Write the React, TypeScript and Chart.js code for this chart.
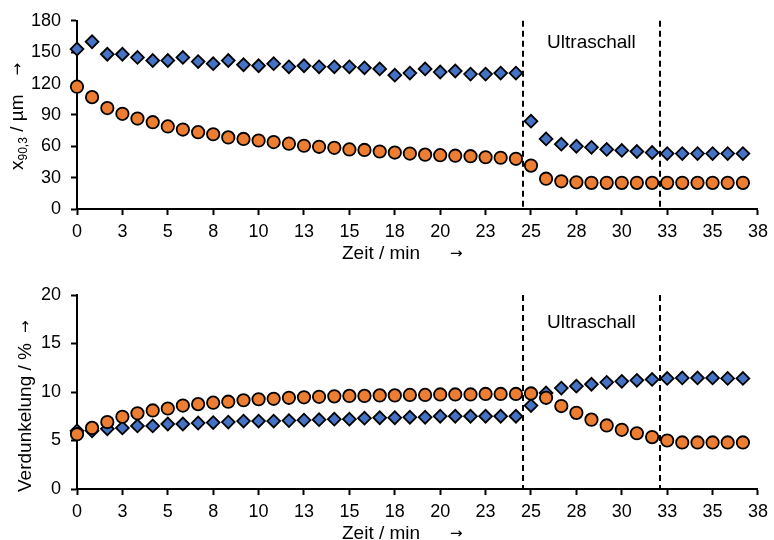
import { useEffect, useRef } from 'react';
import { Chart, registerables } from 'chart.js';

Chart.register(...registerables);

// Sampling times in minutes (one reading every 50 s)
const times = [
  0, 0.83, 1.67, 2.5, 3.33, 4.17, 5, 5.83, 6.67, 7.5, 8.33, 9.17, 10, 10.83, 11.67,
  12.5, 13.33, 14.17, 15, 15.83, 16.67, 17.5, 18.33, 19.17, 20, 20.83, 21.67, 22.5,
  23.33, 24.17, 25, 25.83, 26.67, 27.5, 28.33, 29.17, 30, 30.83, 31.67, 32.5, 33.33,
  34.17, 35, 35.83, 36.67,
];

const xTickValues = [0, 2.5, 5, 7.5, 10, 12.5, 15, 17.5, 20, 22.5, 25, 27.5, 30, 32.5, 35, 37.5];
const xTickLabels = ['0', '3', '5', '8', '10', '13', '15', '18', '20', '23', '25', '28', '30', '33', '35', '38'];

const sizeTicks = [0, 30, 60, 90, 120, 150, 180];
const darkTicks = [0, 5, 10, 15, 20];

// x90,3 in µm
const sizeBlue = [
  153, 160, 148, 148, 145, 142, 142, 145, 141, 139, 142, 138, 137, 139, 136,
  137, 136, 136, 136, 135, 134, 128, 130, 134, 131, 132, 129, 129, 130, 130,
  84, 67, 62, 60, 59, 57, 56, 55, 54, 53, 53, 53, 53, 53, 53,
];
const sizeOrange = [
  117, 107, 96.5, 91, 86.5, 83, 79, 76, 73.5, 71.5, 68.5, 67, 65.5, 64, 62.5,
  60.5, 59.5, 58.5, 57, 56.5, 55, 54, 53, 52, 51.5, 51, 50.5, 49.5, 49, 48,
  41.5, 29, 26.5, 25.5, 25, 25, 25, 25, 25, 25, 25, 25, 25, 25, 25,
];

// Verdunkelung in %
const darkBlue = [
  6.0, 6.0, 6.2, 6.3, 6.5, 6.5, 6.7, 6.7, 6.8, 6.85, 6.9, 7.0, 7.0, 7.0, 7.05,
  7.1, 7.15, 7.2, 7.2, 7.3, 7.35, 7.35, 7.4, 7.4, 7.5, 7.5, 7.5, 7.5, 7.5, 7.5,
  8.6, 9.9, 10.4, 10.6, 10.8, 11.0, 11.1, 11.2, 11.3, 11.4, 11.45, 11.45, 11.45, 11.4, 11.4,
];
const darkOrange = [
  5.65, 6.3, 6.9, 7.45, 7.8, 8.1, 8.3, 8.6, 8.75, 8.9, 9.0, 9.15, 9.25, 9.3, 9.4,
  9.45, 9.5, 9.55, 9.6, 9.6, 9.65, 9.65, 9.7, 9.7, 9.75, 9.75, 9.75, 9.8, 9.8, 9.8,
  9.85, 9.4, 8.55, 7.85, 7.15, 6.55, 6.1, 5.75, 5.35, 5.0, 4.8, 4.8, 4.8, 4.8, 4.8,
];

// Start and end of the ultrasound treatment (min)
const sonicationBounds = [24.58, 32.08];
const sonicationLabel = 'Ultraschall';
const timeTitle = 'Zeit / min';
const arrow = '→';

const FAMILY = '"Liberation Sans", Arial, Helvetica, sans-serif';
const ARROW_FAMILY = '"DejaVu Sans", sans-serif';
const BLUE = '#4472C4';
const ORANGE = '#ED7D31';
const W = 774;
const H = 270;

type Part = { text: string; size: number; shift?: number; gap?: number; family?: string };

function drawRun(ctx: CanvasRenderingContext2D, parts: Part[], x0: number, y0: number, rotated: boolean) {
  ctx.save();
  ctx.translate(x0, y0);
  if (rotated) ctx.rotate(-Math.PI / 2);
  ctx.fillStyle = '#000';
  ctx.textAlign = 'left';
  ctx.textBaseline = 'alphabetic';
  let u = 0;
  for (const p of parts) {
    ctx.font = `${p.size}px ${p.family || FAMILY}`;
    u += p.gap || 0;
    ctx.fillText(p.text, u, p.shift || 0);
    u += ctx.measureText(p.text).width;
  }
  ctx.restore();
}

type Panel = {
  top: number;
  bottom: number;
  max: number;
  ticks: number[];
  blue: number[];
  orange: number[];
  yTitle: Part[];
  yTitleX: number;
  yTitleY: number;
  xTitleY: number;
  labelY: number;
};

const panels: Panel[] = [
  {
    top: 16,
    bottom: 209,
    max: 180,
    ticks: sizeTicks,
    blue: sizeBlue,
    orange: sizeOrange,
    yTitle: [
      { text: 'x', size: 19 },
      { text: '90,3', size: 12, shift: 4 },
      { text: ' / µm', size: 19 },
      { text: arrow, size: 15, gap: 19, family: ARROW_FAMILY, shift: -1 },
    ],
    yTitleX: 23,
    yTitleY: 170,
    xTitleY: 259,
    labelY: 43,
  },
  {
    top: 25,
    bottom: 219,
    max: 20,
    ticks: darkTicks,
    blue: darkBlue,
    orange: darkOrange,
    yTitle: [
      { text: 'Verdunkelung / %', size: 19 },
      { text: arrow, size: 15, gap: 10, family: ARROW_FAMILY, shift: -1 },
    ],
    yTitleX: 31,
    yTitleY: 222,
    xTitleY: 269,
    labelY: 53,
  },
];

function makeOverlay(p: Panel) {
  return {
    id: 'sonicationOverlay',
    beforeDatasetsDraw(chart: any) {
      const { ctx, chartArea, scales } = chart;
      ctx.save();
      ctx.strokeStyle = '#000';
      ctx.lineWidth = 2;
      ctx.setLineDash([6, 4]);
      for (const t of sonicationBounds) {
        const x = Math.round(scales.x.getPixelForValue(t));
        ctx.beginPath();
        ctx.moveTo(x, chartArea.top);
        ctx.lineTo(x, chartArea.bottom);
        ctx.stroke();
      }
      ctx.restore();
    },
    afterDraw(chart: any) {
      const { ctx, scales } = chart;
      ctx.save();
      ctx.fillStyle = '#000';
      ctx.font = `19px ${FAMILY}`;
      ctx.textAlign = 'center';
      ctx.textBaseline = 'middle';
      const mid = (scales.x.getPixelForValue(sonicationBounds[0]) + scales.x.getPixelForValue(sonicationBounds[1])) / 2;
      ctx.fillText(sonicationLabel, mid, p.labelY);
      ctx.restore();
      drawRun(ctx, p.yTitle, p.yTitleX, p.yTitleY, true);
      drawRun(
        ctx,
        [
          { text: timeTitle, size: 19 },
          { text: arrow, size: 15, gap: 30, family: ARROW_FAMILY, shift: -1 },
        ],
        342,
        p.xTitleY,
        false
      );
    },
  };
}

function makeConfig(p: Panel): any {
  const tickFont = { family: FAMILY, size: 18 };
  const grid = {
    display: true,
    drawOnChartArea: false,
    drawTicks: true,
    tickLength: 6,
    tickColor: '#000',
    tickWidth: 2,
  };
  return {
    type: 'scatter',
    data: {
      datasets: [
        {
          data: times.map((t, i) => ({ x: t, y: p.orange[i] })),
          pointStyle: 'circle',
          pointRadius: 6.2,
          backgroundColor: ORANGE,
          borderColor: '#000',
          borderWidth: 1.8,
          showLine: false,
          clip: false,
        },
        {
          data: times.map((t, i) => ({ x: t, y: p.blue[i] })),
          pointStyle: 'rectRot',
          pointRadius: 6.4,
          backgroundColor: BLUE,
          borderColor: '#000',
          borderWidth: 1.8,
          showLine: false,
          clip: false,
        },
      ],
    },
    options: {
      responsive: false,
      animation: false,
      events: [],
      layout: { padding: { left: 0, right: W - 758, top: p.top, bottom: 0 } },
      plugins: { legend: { display: false }, tooltip: { enabled: false }, title: { display: false } },
      scales: {
        x: {
          type: 'linear',
          min: 0,
          max: 37.5,
          afterBuildTicks: (s: any) => {
            s.ticks = xTickValues.map((v) => ({ value: v }));
          },
          afterFit: (s: any) => {
            s.height = H - p.bottom;
          },
          ticks: {
            callback: (_v: any, i: number) => xTickLabels[i],
            font: tickFont,
            color: '#000',
            padding: 6,
            maxRotation: 0,
            autoSkip: false,
          },
          grid,
          border: { display: true, color: '#000', width: 2 },
        },
        y: {
          type: 'linear',
          min: 0,
          max: p.max,
          afterBuildTicks: (s: any) => {
            s.ticks = p.ticks.map((v) => ({ value: v }));
          },
          afterFit: (s: any) => {
            s.width = 77;
          },
          ticks: {
            font: tickFont,
            color: '#000',
            padding: 10,
          },
          grid,
          border: { display: true, color: '#000', width: 2 },
        },
      },
    },
    plugins: [makeOverlay(p)],
  };
}

function PanelChart({ panel, top }: { panel: Panel; top: number }) {
  const ref = useRef<HTMLCanvasElement | null>(null);
  useEffect(() => {
    if (!ref.current) return;
    const chart = new Chart(ref.current, makeConfig(panel));
    return () => chart.destroy();
  }, [panel]);
  return (
    <canvas
      ref={ref}
      width={W}
      height={H}
      style={{ position: 'absolute', left: 0, top, width: W, height: H, display: 'block' }}
    />
  );
}

export default function App() {
  return (
    <div style={{ position: 'absolute', left: 0, top: 0, width: W, height: 540, overflow: 'hidden', background: '#fff' }}>
      <PanelChart panel={panels[0]} top={0} />
      <PanelChart panel={panels[1]} top={270} />
    </div>
  );
}
